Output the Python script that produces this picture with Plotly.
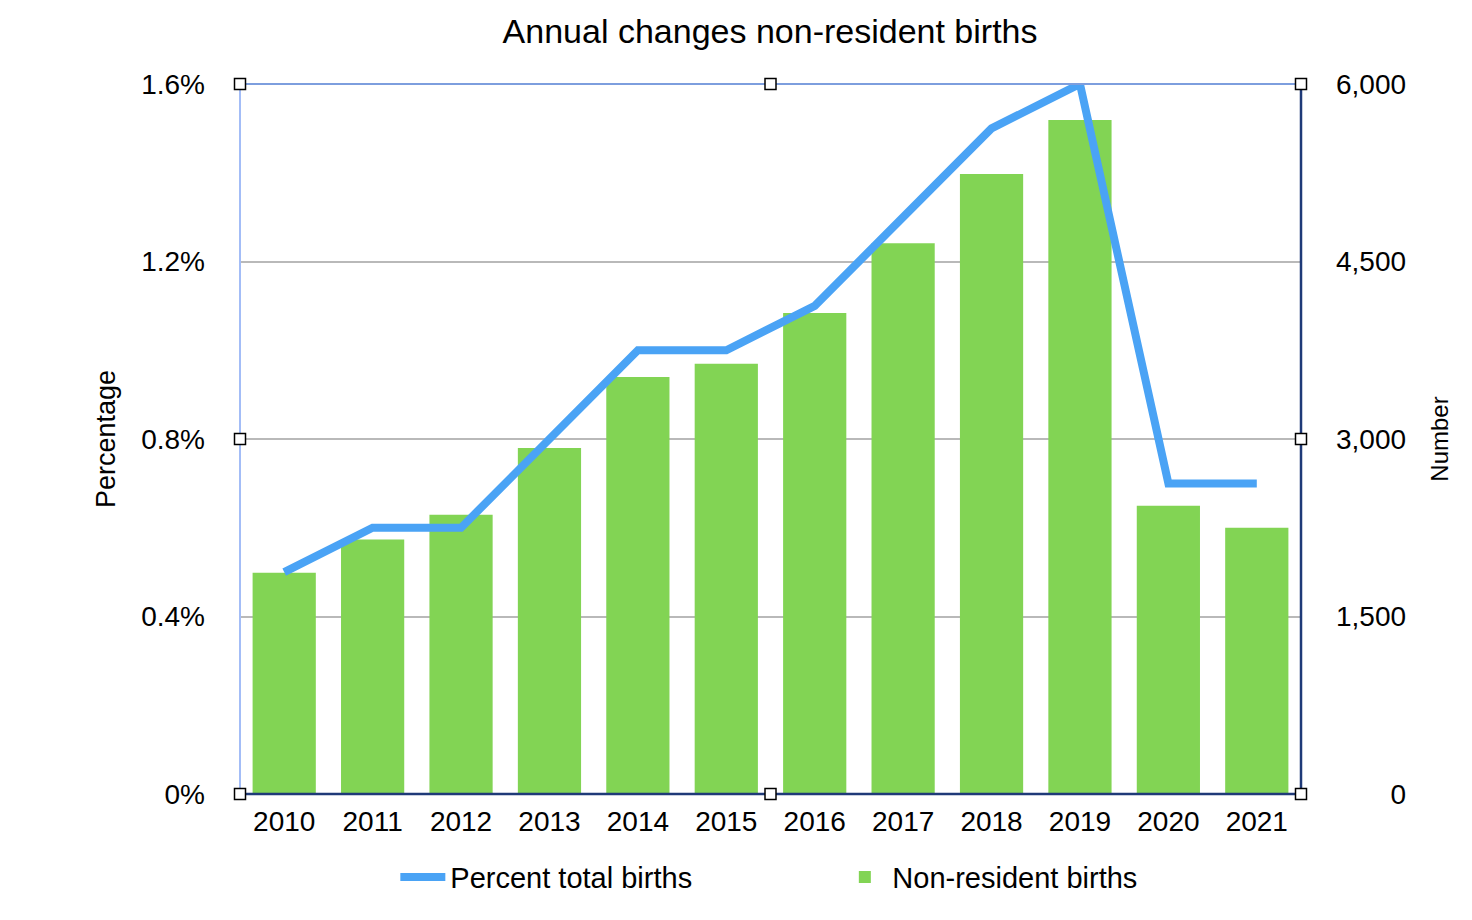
import plotly.graph_objects as go

years = ["2010", "2011", "2012", "2013", "2014", "2015", "2016", "2017", "2018", "2019", "2020", "2021"]
non_resident_births = [1870, 2150, 2360, 2925, 3525, 3635, 4065, 4655, 5240, 5695, 2435, 2250]
percent_total_births = [0.50, 0.60, 0.60, 0.80, 1.00, 1.00, 1.10, 1.30, 1.50, 1.60, 0.70, 0.70]

pct_ticks = [0, 0.4, 0.8, 1.2, 1.6]
pct_labels = ["0%", "0.4%", "0.8%", "1.2%", "1.6%"]
num_ticks = [0, 1500, 3000, 4500, 6000]
num_labels = ["\u2007\u2007\u2007\u20080", "1,500", "3,000", "4,500", "6,000"]

FONT = "Liberation Sans, Arial, Helvetica, sans-serif"

fig = go.Figure()
fig.add_trace(go.Bar(
    x=years, y=non_resident_births, name="Non-resident births",
    marker=dict(color="#82d454", line=dict(width=0)), yaxis="y",
))
fig.add_trace(go.Scatter(
    x=years, y=percent_total_births, name="Percent total births",
    mode="lines", line=dict(color="#4aa3f5", width=8), yaxis="y2",
))

shapes = []
shapes.append(dict(type="line", xref="paper", yref="paper", x0=0, x1=0, y0=0, y1=1,
                   line=dict(color="#a3bdf7", width=2), layer="above"))
shapes.append(dict(type="line", xref="paper", yref="paper", x0=0, x1=1, y0=1, y1=1,
                   line=dict(color="#7d9ede", width=2), layer="above"))
shapes.append(dict(type="line", xref="paper", yref="paper", x0=1, x1=1, y0=0, y1=1,
                   line=dict(color="#1f3a78", width=2.5), layer="above"))
shapes.append(dict(type="line", xref="paper", yref="paper", x0=0, x1=1, y0=0, y1=0,
                   line=dict(color="#1f3a78", width=2.5), layer="above"))
for hx in (0, 0.5, 1):
    for hy in (0, 0.5, 1):
        if hx == 0.5 and hy == 0.5:
            continue
        shapes.append(dict(type="rect", xref="paper", yref="paper",
                           xsizemode="pixel", ysizemode="pixel",
                           xanchor=hx, yanchor=hy, x0=-5.5, x1=5.5, y0=-5.5, y1=5.5,
                           fillcolor="white", line=dict(color="black", width=1.5),
                           layer="above"))

fig.update_layout(
    width=1456, height=904,
    margin=dict(l=232, r=163, t=76, b=118, autoexpand=False),
    paper_bgcolor="white", plot_bgcolor="white",
    font=dict(family=FONT, size=28, color="black"),
    title=dict(text="Annual changes non-resident births", x=0.5234, xanchor="center",
               y=0.9746, yanchor="middle", font=dict(size=34, family=FONT)),
    bargap=0.285,
    showlegend=True,
    legend=dict(orientation="h", x=0.563, xanchor="center", y=-0.117, yanchor="middle",
                traceorder="reversed", entrywidth=382, itemwidth=45, font=dict(size=29)),
    xaxis=dict(type="category", showgrid=False, showline=False, ticks="",
               ticklabelstandoff=8, tickfont=dict(size=28)),
    yaxis=dict(side="right", range=[0, 6000], tickvals=num_ticks, ticktext=num_labels,
               showgrid=True, gridcolor="#b9b9b9", gridwidth=2, zeroline=False,
               showline=False, ticks="", ticklabelstandoff=34, tickfont=dict(size=28),
               title=dict(text="Number", standoff=26, font=dict(size=24))),
    yaxis2=dict(side="left", overlaying="y", range=[0, 1.6], tickvals=pct_ticks,
                ticktext=pct_labels, showgrid=False, zeroline=False, showline=False,
                ticks="", ticklabelstandoff=34, tickfont=dict(size=28),
                title=dict(text="Percentage", standoff=17, font=dict(size=27))),
    shapes=shapes,
)

fig.write_html("out.html")
